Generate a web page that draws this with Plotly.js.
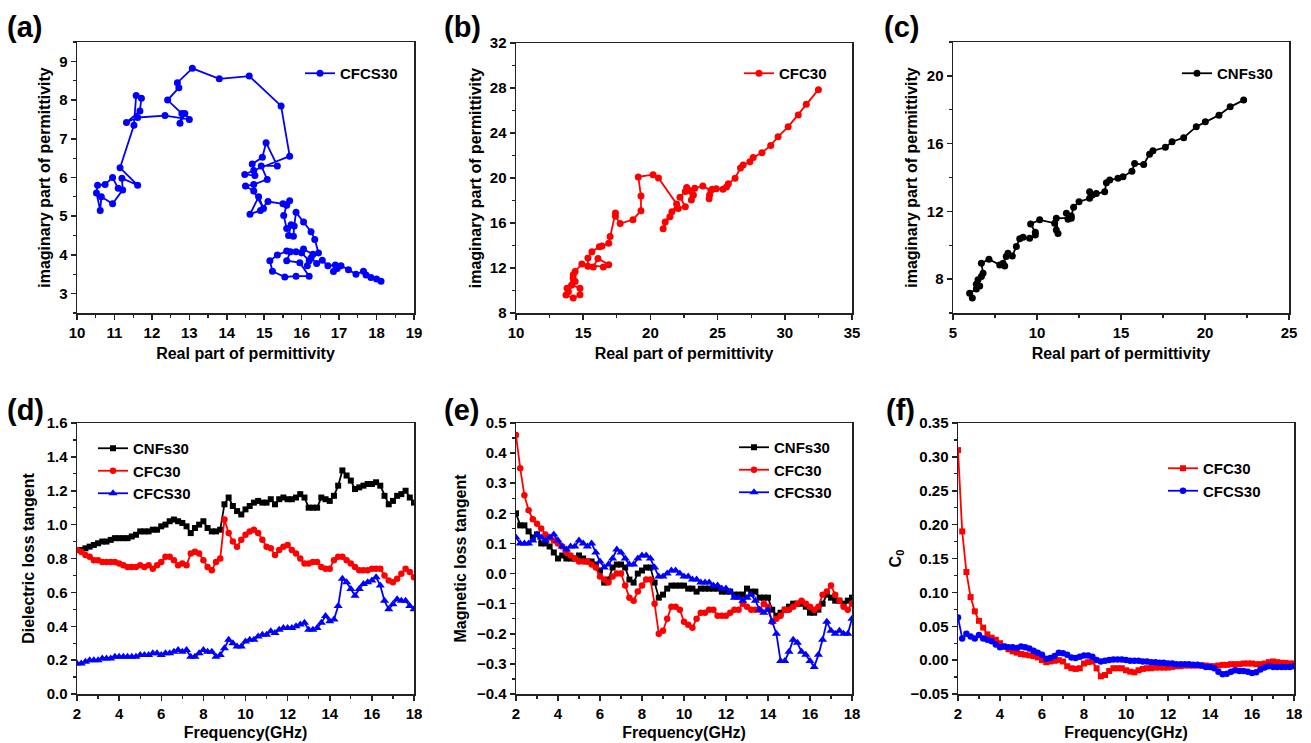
<!DOCTYPE html>
<html>
<head>
<meta charset="utf-8">
<script src="https://cdn.plot.ly/plotly-3.0.1.min.js"></script>
<style>html,body{margin:0;padding:0;background:#fff;}#chart{width:1311px;height:743px;}</style>
</head>
<body>
<div id="chart"></div>
<script>
// ---------- Data ----------
// (a) Cole-Cole, CFCS30
const a_real = [18.12,18.0,17.85,17.72,17.65,17.45,17.25,17.05,16.95,16.85,16.9,16.7,16.55,16.4,16.25,16.15,16.3,16.05,15.85,15.6,15.35,15.15,15.22,15.55,15.85,16.2,15.95,15.6,15.7,16.0,16.2,16.45,16.35,16.25,16.05,15.85,15.8,15.78,15.65,15.72,15.6,15.52,15.6,15.68,15.5,15.1,14.9,14.62,14.85,14.98,14.72,14.5,14.72,15.08,14.92,15.35,15.05,14.95,14.68,14.75,14.48,14.72,15.68,15.45,14.6,13.8,13.08,12.68,12.72,12.42,12.8,12.75,12.88,13.0,12.35,11.62,11.32,11.68,11.72,11.58,11.52,11.15,11.62,11.2,11.22,10.95,10.65,10.62,10.52,10.55,10.75,10.95,11.1];
const a_imag = [3.32,3.38,3.42,3.48,3.58,3.5,3.62,3.72,3.65,3.57,3.74,3.72,3.86,3.78,3.92,3.72,4.02,4.15,4.08,4.1,4.0,3.85,3.58,3.43,3.45,3.45,3.8,3.85,4.08,4.05,3.85,4.05,4.4,4.6,4.85,5.1,4.75,4.48,4.5,4.78,4.68,5.02,5.28,5.4,5.32,5.38,5.15,5.05,5.5,5.2,5.65,5.78,5.82,5.95,6.3,6.3,6.9,6.52,6.35,6.05,6.08,6.18,6.55,7.85,8.62,8.55,8.82,8.45,8.32,8.0,7.65,7.4,7.65,7.5,7.6,7.55,7.42,7.72,8.05,8.12,7.35,6.25,5.8,5.98,5.68,5.32,5.5,5.15,5.6,5.8,5.82,6.0,5.72];
// (b) Cole-Cole, CFC30
const b_real = [32.5,31.6,31.0,30.25,29.5,28.95,28.3,27.65,27.4,26.9,26.7,26.3,25.8,25.66,25.4,24.9,24.6,24.4,24.37,24.5,23.9,23.3,23.2,23.05,22.9,22.7,22.6,22.2,22.6,22.07,21.6,21.1,20.95,21.45,21.95,20.6,20.2,19.1,19.3,19.3,18.7,17.75,17.4,17.4,17.0,16.9,16.4,16.2,15.65,15.35,15.35,15.75,16.1,16.9,16.5,14.9,14.4,14.25,13.8,13.72,14.26,14.76,14.76,14.15,14.26,14.4,13.9];
const b_imag = [27.85,26.56,25.6,24.55,23.67,22.9,22.25,21.83,21.45,21.15,20.9,19.97,19.5,19.2,19.0,19.05,19.0,18.5,18.15,18.9,19.3,19.1,18.5,18.05,18.9,19.15,18.8,18.3,17.45,17.3,17.0,16.1,15.5,16.55,17.7,20.0,20.3,20.1,18.4,17.1,16.3,15.95,16.6,16.9,14.8,14.2,13.95,13.9,13.45,12.9,12.15,12.1,12.85,12.3,12.1,12.35,11.7,11.1,10.2,9.6,9.33,9.62,10.2,10.5,11.4,10.8,9.9];
// (c) Cole-Cole, CNFs30
const c_real = [22.3,21.5,20.83,20.02,19.48,18.73,18.04,17.64,16.9,16.7,16.35,15.81,15.65,15.12,14.82,14.33,14.13,14.03,13.53,13.29,13.13,13.13,12.5,12.18,12.04,11.85,11.75,12.04,11.15,11.25,11.15,11.05,10.16,9.62,9.9,9.9,9.56,9.17,8.97,8.77,8.53,8.27,8.17,7.98,8.08,7.78,7.14,6.69,6.79,6.69,6.49,6.39,6.59,6.39,5.99,6.15];
const c_imag = [18.57,18.17,17.68,17.29,17.0,16.35,16.11,15.78,15.58,15.38,14.77,14.82,14.37,14.05,13.95,13.85,13.69,13.16,13.06,12.97,13.16,12.77,12.57,12.24,11.73,11.53,11.89,11.6,11.6,10.7,10.9,11.3,11.5,11.26,10.77,10.6,10.41,10.47,10.39,9.92,9.37,9.53,9.33,8.94,8.78,8.84,9.17,8.94,8.35,8.15,7.96,7.7,7.6,7.41,7.17,6.88];

// (d)-(f) frequency sweeps (GHz)
const freq = [2,2.2,2.4,2.6,2.8,3,3.2,3.4,3.6,3.8,4,4.2,4.4,4.6,4.8,5,5.2,5.4,5.6,5.8,6,6.2,6.4,6.6,6.8,7,7.2,7.4,7.6,7.8,8,8.2,8.4,8.6,8.8,9,9.2,9.4,9.6,9.8,10,10.2,10.4,10.6,10.8,11,11.2,11.4,11.6,11.8,12,12.2,12.4,12.6,12.8,13,13.2,13.4,13.6,13.8,14,14.2,14.4,14.6,14.8,15,15.2,15.4,15.6,15.8,16,16.2,16.4,16.6,16.8,17,17.2,17.4,17.6,17.8,18];

const tanE_CNFs30 = [0.85,0.85,0.86,0.87,0.88,0.89,0.90,0.90,0.91,0.92, 0.92,0.92,0.92,0.93,0.94,0.96,0.96,0.96,0.97,0.97, 0.99,1.00,1.02,1.03,1.02,1.01,0.99,0.95,0.98,1.00, 1.02,0.98,0.96,0.96,0.97,1.12,1.16,1.11,1.08,1.06, 1.09,1.11,1.13,1.14,1.13,1.13,1.15,1.12,1.15,1.16, 1.15,1.15,1.16,1.18,1.16,1.10,1.10,1.10,1.16,1.15, 1.14,1.17,1.23,1.32,1.29,1.26,1.21,1.22,1.23,1.24, 1.24,1.25,1.23,1.17,1.12,1.14,1.17,1.18,1.20,1.16, 1.13];
const tanE_CFC30 = [0.85,0.84,0.82,0.81,0.79,0.79,0.78,0.78,0.78,0.78, 0.77,0.76,0.75,0.75,0.75,0.76,0.75,0.76,0.74,0.76, 0.78,0.81,0.81,0.79,0.76,0.77,0.76,0.83,0.84,0.83, 0.79,0.75,0.73,0.78,0.80,1.03,0.95,0.90,0.87,0.91, 0.94,0.96,0.97,0.95,0.91,0.87,0.86,0.82,0.85,0.87, 0.88,0.85,0.83,0.80,0.77,0.77,0.78,0.78,0.75,0.74, 0.74,0.79,0.81,0.81,0.79,0.77,0.75,0.73,0.73,0.73, 0.74,0.74,0.74,0.70,0.67,0.66,0.68,0.71,0.74,0.72, 0.69];
const tanE_CFCS30 = [0.18,0.18,0.19,0.20,0.20,0.20,0.21,0.21,0.21,0.22, 0.22,0.22,0.22,0.22,0.22,0.23,0.23,0.23,0.24,0.24, 0.23,0.24,0.24,0.25,0.26,0.25,0.26,0.22,0.22,0.24, 0.26,0.25,0.25,0.22,0.23,0.27,0.32,0.30,0.28,0.28, 0.31,0.32,0.32,0.34,0.35,0.35,0.37,0.36,0.38,0.39, 0.39,0.39,0.40,0.41,0.42,0.38,0.38,0.39,0.42,0.46, 0.43,0.44,0.52,0.68,0.66,0.62,0.58,0.62,0.65,0.66, 0.67,0.69,0.64,0.55,0.50,0.53,0.56,0.55,0.55,0.52, 0.50];

const tanM_CNFs30 = [0.20,0.16,0.16,0.14,0.12,0.13,0.10,0.10,0.09,0.07, 0.05,0.06,0.05,0.05,0.05,0.06,0.05,0.04,0.04,0.03, 0.01,-0.03,-0.02,0.02,0.03,0.03,0.02,-0.02,-0.03,0.00, 0.01,0.02,0.02,-0.03,-0.08,-0.07,-0.05,-0.04,-0.04,-0.04, -0.04,-0.05,-0.05,-0.06,-0.05,-0.05,-0.05,-0.05,-0.05,-0.06, -0.06,-0.06,-0.07,-0.07,-0.07,-0.05,-0.06,-0.06,-0.08,-0.08, -0.08,-0.12,-0.14,-0.13,-0.12,-0.11,-0.10,-0.10,-0.10,-0.11, -0.13,-0.13,-0.12,-0.10,-0.07,-0.08,-0.09,-0.09,-0.10,-0.09, -0.08];
const tanM_CFC30 = [0.46,0.35,0.26,0.21,0.18,0.165,0.15,0.13,0.12,0.11, 0.10,0.09,0.07,0.06,0.05,0.04,0.04,0.04,0.03,0.02, -0.01,-0.02,-0.03,-0.01,0.00,0.00,-0.04,-0.08,-0.09,-0.06, -0.04,-0.02,-0.02,-0.10,-0.20,-0.19,-0.15,-0.11,-0.11,-0.12, -0.16,-0.17,-0.18,-0.15,-0.13,-0.13,-0.12,-0.12,-0.14,-0.14, -0.14,-0.13,-0.12,-0.12,-0.10,-0.11,-0.12,-0.12,-0.12,-0.10, -0.11,-0.16,-0.15,-0.14,-0.12,-0.12,-0.11,-0.10,-0.09,-0.10, -0.11,-0.12,-0.11,-0.07,-0.06,-0.04,-0.07,-0.09,-0.11,-0.12, -0.10];
const tanM_CFCS30 = [0.12,0.10,0.10,0.10,0.11,0.13,0.12,0.11,0.12,0.13, 0.11,0.09,0.08,0.09,0.09,0.11,0.10,0.09,0.10,0.07, 0.04,0.02,0.03,0.05,0.08,0.07,0.05,0.03,0.03,0.05, 0.06,0.06,0.05,0.02,-0.01,-0.01,0.00,0.01,0.01,0.00, -0.01,-0.01,-0.02,-0.02,-0.03,-0.03,-0.03,-0.04,-0.04,-0.05, -0.05,-0.06,-0.08,-0.08,-0.09,-0.08,-0.07,-0.09,-0.12,-0.13, -0.12,-0.16,-0.20,-0.29,-0.29,-0.26,-0.22,-0.23,-0.26,-0.27, -0.29,-0.31,-0.27,-0.22,-0.16,-0.19,-0.20,-0.19,-0.20,-0.20, -0.15];

const C0_CFC30 = [0.31,0.19,0.13,0.093,0.072,0.058,0.048,0.038,0.033,0.030, 0.025,0.020,0.016,0.013,0.011,0.009,0.008,0.007,0.006,0.004, 0.000,-0.003,-0.002,-0.001,0.000,-0.002,-0.009,-0.012,-0.013,-0.012, -0.005,-0.003,-0.002,-0.012,-0.024,-0.022,-0.016,-0.012,-0.012,-0.012, -0.015,-0.017,-0.018,-0.015,-0.013,-0.012,-0.012,-0.011,-0.011,-0.011, -0.011,-0.010,-0.009,-0.009,-0.008,-0.008,-0.008,-0.008,-0.008,-0.008, -0.009,-0.009,-0.008,-0.007,-0.007,-0.006,-0.006,-0.006,-0.005,-0.005, -0.005,-0.006,-0.006,-0.005,-0.003,-0.002,-0.003,-0.004,-0.004,-0.005, -0.005];
const C0_CFCS30 = [0.063,0.032,0.039,0.035,0.032,0.037,0.032,0.030,0.028,0.023, 0.019,0.020,0.019,0.019,0.018,0.020,0.019,0.017,0.014,0.011, 0.008,0.002,0.003,0.006,0.011,0.010,0.008,0.004,0.003,0.005, 0.007,0.007,0.005,0.000,-0.002,-0.001,0.000,0.001,0.001,0.001, 0.000,-0.001,-0.001,-0.001,-0.002,-0.002,-0.003,-0.003,-0.004,-0.004, -0.005,-0.005,-0.006,-0.006,-0.006,-0.006,-0.007,-0.007,-0.008,-0.010, -0.010,-0.012,-0.017,-0.021,-0.020,-0.017,-0.015,-0.016,-0.016,-0.017, -0.019,-0.018,-0.014,-0.011,-0.009,-0.010,-0.010,-0.010,-0.010,-0.010, -0.009];

// ---------- Styling ----------
const FONT = "Arial, 'Liberation Sans', sans-serif";
const BLACK = '#000000', RED = '#ff0000', BLUE = '#0000ff';
const W = 1311, H = 743;

function tr(x, y, name, color, symbol, size, xa, ya, leg) {
  return {x: x, y: y, name: name, type: 'scatter', mode: 'lines+markers',
    line: {color: color, width: 1.8},
    marker: {color: color, symbol: symbol, size: size},
    xaxis: xa, yaxis: ya, legend: leg};
}

const traces = [
  tr(a_real, a_imag, 'CFCS30', BLUE, 'circle', 7, 'x', 'y', 'legend'),
  tr(b_real, b_imag, 'CFC30', RED, 'circle', 7, 'x2', 'y2', 'legend2'),
  tr(c_real, c_imag, 'CNFs30', BLACK, 'circle', 7, 'x3', 'y3', 'legend3'),
  tr(freq, tanE_CNFs30, 'CNFs30', BLACK, 'square', 6, 'x4', 'y4', 'legend4'),
  tr(freq, tanE_CFC30, 'CFC30', RED, 'circle', 6.5, 'x4', 'y4', 'legend4'),
  tr(freq, tanE_CFCS30, 'CFCS30', BLUE, 'triangle-up', 8, 'x4', 'y4', 'legend4'),
  tr(freq, tanM_CNFs30, 'CNFs30', BLACK, 'square', 6, 'x5', 'y5', 'legend5'),
  tr(freq, tanM_CFC30, 'CFC30', RED, 'circle', 6.5, 'x5', 'y5', 'legend5'),
  tr(freq, tanM_CFCS30, 'CFCS30', BLUE, 'triangle-up', 8, 'x5', 'y5', 'legend5'),
  tr(freq, C0_CFC30, 'CFC30', RED, 'square', 6, 'x6', 'y6', 'legend6'),
  tr(freq, C0_CFCS30, 'CFCS30', BLUE, 'circle', 6.5, 'x6', 'y6', 'legend6')
];

function axis(px0, px1, isY, range, tick0, dtick, minor, anchor, title, standoff, fmt) {
  const dom = isY ? [1 - px1 / H, 1 - px0 / H] : [px0 / W, px1 / W];
  const a = {
    domain: dom, range: range, tick0: tick0, dtick: dtick, anchor: anchor,
    ticks: 'outside', ticklen: 5, tickwidth: 1.5, tickcolor: '#222',
    minor: {ticks: 'outside', ticklen: 3, tickwidth: 1.2, dtick: minor, tick0: tick0, tickcolor: '#222', showgrid: false},
    showline: true, mirror: true, linewidth: 1.5, linecolor: '#222',
    showgrid: false, zeroline: false, automargin: false,
    tickfont: {family: FONT, size: 15, color: '#000', weight: 'bold'},
    title: {text: title, standoff: standoff, font: {family: FONT, size: 16, color: '#000', weight: 'bold'}}
  };
  if (fmt) a.tickformat = fmt;
  return a;
}

function legend(xpx, ypx) {
  return {x: xpx / W, y: 1 - ypx / H, xanchor: 'left', yanchor: 'top',
    bgcolor: 'rgba(0,0,0,0)', borderwidth: 0, tracegroupgap: 0,
    font: {family: FONT, size: 15, color: '#000', weight: 'bold'}};
}

function label(text, xpx, ypx) {
  return {text: text, xref: 'paper', yref: 'paper', x: xpx / W, y: 1 - ypx / H,
    xanchor: 'left', yanchor: 'middle', showarrow: false,
    font: {family: FONT, size: 29, color: '#000', weight: 'bold'}};
}

const layout = {
  width: W, height: H, margin: {l: 0, r: 0, t: 0, b: 0},
  paper_bgcolor: '#fff', plot_bgcolor: '#fff', showlegend: true,
  xaxis:  axis(77, 414, false, [10, 19], 10, 1, 0.5, 'y', 'Real part of permittivity', 8),
  yaxis:  axis(42, 313, true, [2.5, 9.5], 3, 1, 0.5, 'x', 'imaginary part of permittivity', 4),
  xaxis2: axis(516, 852, false, [10, 35], 10, 5, 2.5, 'y2', 'Real part of permittivity', 8),
  yaxis2: axis(43, 313, true, [8, 32], 8, 4, 2, 'x2', 'imaginary part of permittivity', 4),
  xaxis3: axis(953, 1289, false, [5, 25], 5, 5, 2.5, 'y3', 'Real part of permittivity', 8),
  yaxis3: axis(42, 313, true, [6, 22], 8, 4, 2, 'x3', 'imaginary part of permittivity', 5),
  xaxis4: axis(77, 414, false, [2, 18], 2, 2, 1, 'y4', 'Frequency(GHz)', 6),
  yaxis4: axis(423, 694, true, [0, 1.6], 0, 0.2, 0.1, 'x4', 'Dielectric loss tangent', 8, '.1f'),
  xaxis5: axis(516, 852, false, [2, 18], 2, 2, 1, 'y5', 'Frequency(GHz)', 6),
  yaxis5: axis(423, 694, true, [-0.4, 0.5], -0.4, 0.1, 0.05, 'x5', 'Magnetic loss tangent', 6, '.1f'),
  xaxis6: axis(958, 1294, false, [2, 18], 2, 2, 1, 'y6', 'Frequency(GHz)', 6),
  yaxis6: axis(423, 694, true, [-0.05, 0.35], -0.05, 0.05, 0.025, 'x6', 'C<sub>0</sub>', 5, '.2f'),
  legend:  legend(300, 57),
  legend2: legend(739, 57),
  legend3: legend(1177, 57),
  legend4: legend(93, 432),
  legend5: legend(734, 431),
  legend6: legend(1163, 452),
  annotations: [
    label('(a)', 5, 27), label('(b)', 442, 27), label('(c)', 882, 27),
    label('(d)', 5, 410), label('(e)', 442, 410), label('(f)', 884, 410)
  ]
};

Plotly.newPlot('chart', traces, layout, {displayModeBar: false, staticPlot: true});
</script>
</body>
</html>
